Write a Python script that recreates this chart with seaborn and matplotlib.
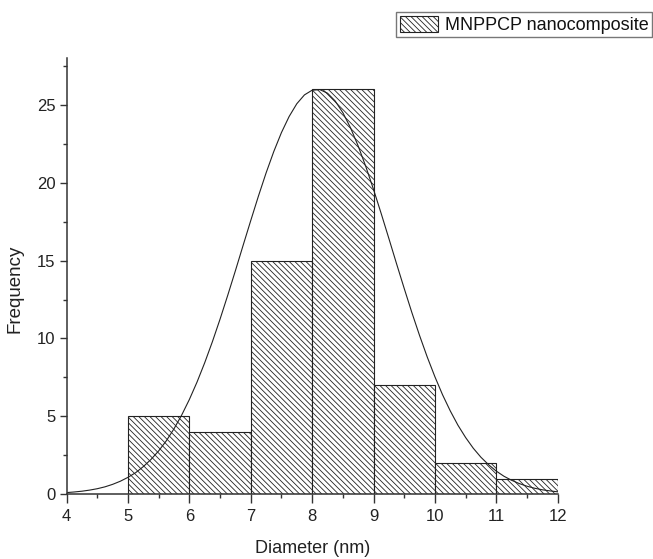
import numpy as np
import matplotlib
matplotlib.use("Agg")
import matplotlib.pyplot as plt
import seaborn as sns
from matplotlib.ticker import MultipleLocator

# Histogram counts per 1 nm bin
bin_edges = [5, 6, 7, 8, 9, 10, 11, 12]
bin_centers = [5.5, 6.5, 7.5, 8.5, 9.5, 10.5, 11.5]
counts = [5, 4, 15, 26, 7, 2, 1]

# Normal fit curve, values every 0.125 nm
curve_x = [4.0, 4.125, 4.25, 4.375, 4.5, 4.625, 4.75, 4.875,
           5.0, 5.125, 5.25, 5.375, 5.5, 5.625, 5.75, 5.875,
           6.0, 6.125, 6.25, 6.375, 6.5, 6.625, 6.75, 6.875,
           7.0, 7.125, 7.25, 7.375, 7.5, 7.625, 7.75, 7.875,
           8.0, 8.125, 8.25, 8.375, 8.5, 8.625, 8.75, 8.875,
           9.0, 9.125, 9.25, 9.375, 9.5, 9.625, 9.75, 9.875,
           10.0, 10.125, 10.25, 10.375, 10.5, 10.625, 10.75, 10.875,
           11.0, 11.125, 11.25, 11.375, 11.5, 11.625, 11.75, 11.875, 12.0]
curve_y = [0.10, 0.14, 0.19, 0.26, 0.35, 0.47, 0.63, 0.83,
           1.08, 1.38, 1.77, 2.23, 2.78, 3.43, 4.20, 5.08,
           6.08, 7.20, 8.44, 9.79, 11.24, 12.77, 14.35, 15.97,
           17.57, 19.14, 20.63, 22.00, 23.22, 24.25, 25.07, 25.64,
           25.94, 25.98, 25.75, 25.25, 24.50, 23.53, 22.36, 21.03,
           19.57, 18.02, 16.42, 14.80, 13.21, 11.66, 10.19, 8.81,
           7.54, 6.38, 5.35, 4.43, 3.64, 2.95, 2.37, 1.89,
           1.48, 1.15, 0.89, 0.68, 0.51, 0.38, 0.28, 0.21, 0.15]

legend_label = "MNPPCP nanocomposite"

sns.set_style("ticks")
plt.rcParams["font.family"] = ["Liberation Sans", "DejaVu Sans"]
plt.rcParams["hatch.linewidth"] = 0.6
plt.rcParams["hatch.color"] = "#222222"

fig = plt.figure(figsize=(6.53, 5.59), dpi=100)
ax = fig.add_axes([0.102, 0.116, 0.752, 0.780])

sns.histplot(
    x=bin_centers,
    weights=counts,
    bins=bin_edges,
    color="white",
    edgecolor="#222222",
    linewidth=0.8,
    alpha=1,
    hatch="\\\\\\\\\\\\",
    ax=ax,
    label=legend_label,
)

sns.lineplot(x=curve_x, y=curve_y, color="#222222", linewidth=0.8,
             legend=False, ax=ax)
if ax.get_legend() is not None:
    ax.get_legend().remove()

ax.set_xlim(4, 12)
ax.set_ylim(0, 28)
ax.xaxis.set_major_locator(MultipleLocator(1))
ax.xaxis.set_minor_locator(MultipleLocator(0.5))
ax.yaxis.set_major_locator(MultipleLocator(5))
ax.yaxis.set_minor_locator(MultipleLocator(2.5))

ax.tick_params(axis="x", which="major", length=6.5, width=1.0, pad=4.5,
               labelsize=12, colors="#333333", labelcolor="#222222")
ax.tick_params(axis="y", which="major", length=5, width=1.0, pad=3,
               labelsize=12, colors="#333333", labelcolor="#222222")
ax.tick_params(which="minor", length=3, width=1.0, colors="#333333")

ax.set_xlabel("Diameter (nm)", fontsize=13, color="#222222", labelpad=11)
ax.set_ylabel("Frequency", fontsize=13.5, color="#222222")
ax.yaxis.set_label_coords(-0.088, 0.47)

sns.despine(ax=ax)
for side in ["left", "bottom"]:
    ax.spines[side].set_color("#333333")
    ax.spines[side].set_linewidth(1.1)

leg = fig.legend(
    handles=ax.containers[:1],
    labels=[legend_label],
    loc="upper right",
    bbox_to_anchor=(1.0, 1 - 11 / 559),
    fontsize=13,
    frameon=True,
    fancybox=False,
    edgecolor="#555555",
    handlelength=2.15,
    handleheight=1.0,
    handletextpad=0.35,
    borderpad=0.2,
    borderaxespad=0.05,
)
leg.get_frame().set_linewidth(1.0)
for t in leg.get_texts():
    t.set_color("#111111")

fig.savefig("out.png", dpi=100)
